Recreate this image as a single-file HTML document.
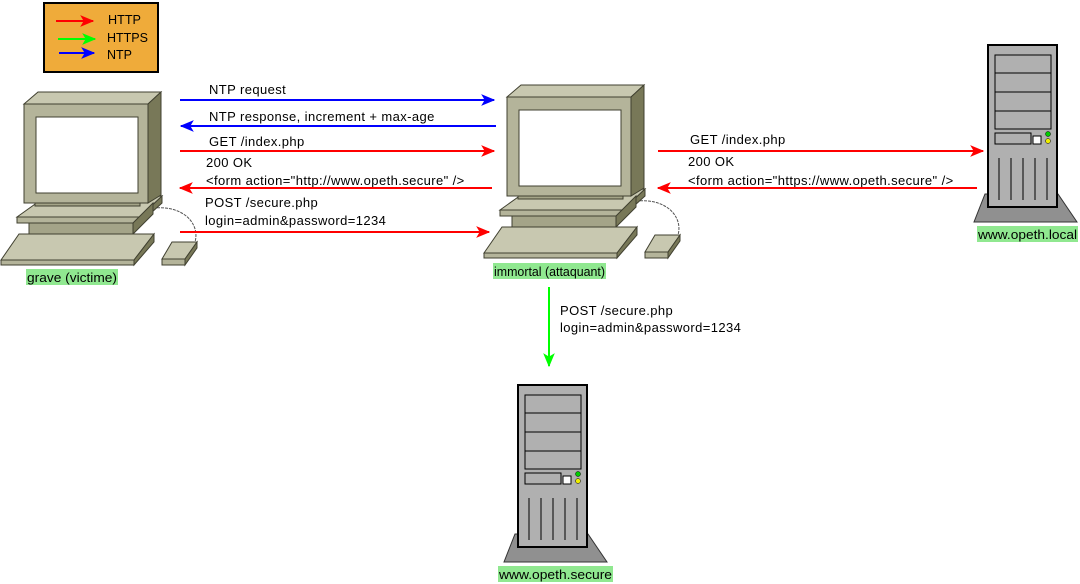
<!DOCTYPE html>
<html><head><meta charset="utf-8"><style>
html,body{margin:0;padding:0;background:#fff;}
svg{display:block;font-family:"Liberation Sans",sans-serif;}
</style></head><body>
<svg width="1080" height="584" viewBox="0 0 1080 584" xmlns="http://www.w3.org/2000/svg">
<defs>
<marker id="r" viewBox="0 0 12 10" refX="11" refY="5" markerWidth="14" markerHeight="13" markerUnits="userSpaceOnUse" orient="auto"><path d="M0,0 L12,5 L0,10 L3,5 Z" fill="#f00"/></marker>
<marker id="g" viewBox="0 0 12 10" refX="11" refY="5" markerWidth="14" markerHeight="13" markerUnits="userSpaceOnUse" orient="auto"><path d="M0,0 L12,5 L0,10 L3,5 Z" fill="#0f0"/></marker>
<marker id="b" viewBox="0 0 12 10" refX="11" refY="5" markerWidth="14" markerHeight="13" markerUnits="userSpaceOnUse" orient="auto"><path d="M0,0 L12,5 L0,10 L3,5 Z" fill="#00f"/></marker>
<g id="pc" stroke="#404030" stroke-width="1">
<path d="M153,208 C185,205 200,225 195,242" fill="none" stroke="#555" stroke-dasharray="3,1"/>
<polygon points="17,217 38,202 162,196 140,217" fill="#c8c8b0"/>
<polygon points="140,217 162,196 162,203 140,223" fill="#787858"/>
<rect x="17" y="217" width="123" height="6" fill="#b4b49a"/>
<rect x="29" y="223" width="104" height="11" fill="#a4a488"/>
<polygon points="133,223 153,203 153,214 133,234" fill="#787858"/>
<polygon points="24,104 38,92 161,92 148,104" fill="#c8c8b0"/>
<polygon points="148,104 161,92 161,195 148,203" fill="#787858"/>
<rect x="24" y="104" width="124" height="99" fill="#b4b49a"/>
<rect x="36" y="117" width="102" height="76" fill="#fff"/>
<rect x="35" y="203" width="105" height="3" fill="#a4a488"/>
<polygon points="1,260 19,234 154,234 134,260" fill="#c8c8b0"/>
<polygon points="134,260 154,234 154,242 134,265" fill="#787858"/>
<rect x="1" y="260" width="133" height="5" fill="#b4b49a"/>
<polygon points="162,259 172,242 197,242 185,259" fill="#c8c8b0"/>
<polygon points="185,259 197,242 197,248 185,265" fill="#787858"/>
<rect x="162" y="259" width="23" height="6" fill="#b4b49a"/>
</g>
<g id="srv">
<polygon points="985,194 1058,194 1077,222 974,222" fill="#909090" stroke="#333" stroke-width="1"/>
<rect x="988" y="45" width="69" height="162" fill="#b0b0b0" stroke="#000" stroke-width="2"/>
<g fill="none" stroke="#000" stroke-width="1">
<rect x="995" y="55" width="56" height="18"/><rect x="995" y="73" width="56" height="19"/>
<rect x="995" y="92" width="56" height="19"/><rect x="995" y="111" width="56" height="18"/>
<rect x="995" y="133" width="36" height="11"/>
<path d="M999,158V200M1011,158V200M1023,158V200M1035,158V200M1047,158V200"/>
</g>
<rect x="1033" y="136" width="8" height="8" fill="#fff" stroke="#000"/>
<circle cx="1048" cy="134" r="2.5" fill="#0c0" stroke="#000" stroke-width=".5"/>
<circle cx="1048" cy="141" r="2.5" fill="#ee0" stroke="#000" stroke-width=".5"/>
</g>
</defs>

<rect x="44" y="3" width="114" height="69" fill="#efab3a" stroke="#000" stroke-width="2"/>
<line x1="56" y1="21" x2="93" y2="21" stroke="#f00" stroke-width="2" marker-end="url(#r)"/>
<line x1="58" y1="39" x2="95" y2="39" stroke="#0f0" stroke-width="2" marker-end="url(#g)"/>
<line x1="59" y1="53" x2="94" y2="53" stroke="#00f" stroke-width="2" marker-end="url(#b)"/>
<g font-size="13" fill="#000">
<text x="108" y="24" textLength="33" lengthAdjust="spacingAndGlyphs">HTTP</text><text x="107" y="42" textLength="41" lengthAdjust="spacingAndGlyphs">HTTPS</text><text x="107" y="59" textLength="25" lengthAdjust="spacingAndGlyphs">NTP</text>
</g>

<use href="#pc"/>
<use href="#pc" transform="translate(483,-7)"/>
<use href="#srv"/>
<use href="#srv" transform="translate(-470,340)"/>

<rect x="26" y="269" width="92" height="16" fill="#90e890"/>
<rect x="493" y="263" width="113" height="16" fill="#90e890"/>
<rect x="977" y="226" width="101" height="16" fill="#90e890"/>
<rect x="498" y="566" width="115" height="16" fill="#90e890"/>
<g font-size="13" fill="#000">
<text x="27" y="282" textLength="90" lengthAdjust="spacingAndGlyphs">grave (victime)</text>
<text x="494" y="276" textLength="111" lengthAdjust="spacingAndGlyphs">immortal (attaquant)</text>
<text x="978" y="239" textLength="99" lengthAdjust="spacingAndGlyphs">www.opeth.local</text>
<text x="499" y="579" textLength="113" lengthAdjust="spacingAndGlyphs">www.opeth.secure</text>
</g>
<g font-size="13" letter-spacing="0.4" fill="#000">
<text x="209" y="94">NTP request</text>
<text x="209" y="121">NTP response, increment + max-age</text>
<text x="209" y="146">GET /index.php</text>
<text x="206" y="167">200 OK</text>
<text x="206" y="185">&lt;form action="http://www.opeth.secure" /&gt;</text>
<text x="205" y="207">POST /secure.php</text>
<text x="205" y="225">login=admin&amp;password=1234</text>
<text x="690" y="144">GET /index.php</text>
<text x="688" y="166">200 OK</text>
<text x="688" y="185">&lt;form action="https://www.opeth.secure" /&gt;</text>
<text x="560" y="315">POST /secure.php</text>
<text x="560" y="332">login=admin&amp;password=1234</text>
</g>

<g stroke-width="2">
<line x1="180" y1="100" x2="494" y2="100" stroke="#00f" marker-end="url(#b)"/>
<line x1="496" y1="126" x2="181" y2="126" stroke="#00f" marker-end="url(#b)"/>
<line x1="180" y1="151" x2="494" y2="151" stroke="#f00" marker-end="url(#r)"/>
<line x1="492" y1="188" x2="180" y2="188" stroke="#f00" marker-end="url(#r)"/>
<line x1="180" y1="232" x2="489" y2="232" stroke="#f00" marker-end="url(#r)"/>
<line x1="658" y1="151" x2="983" y2="151" stroke="#f00" marker-end="url(#r)"/>
<line x1="977" y1="188" x2="658" y2="188" stroke="#f00" marker-end="url(#r)"/>
<line x1="549" y1="287" x2="549" y2="366" stroke="#0f0" marker-end="url(#g)"/>
</g>
</svg>
</body></html>
